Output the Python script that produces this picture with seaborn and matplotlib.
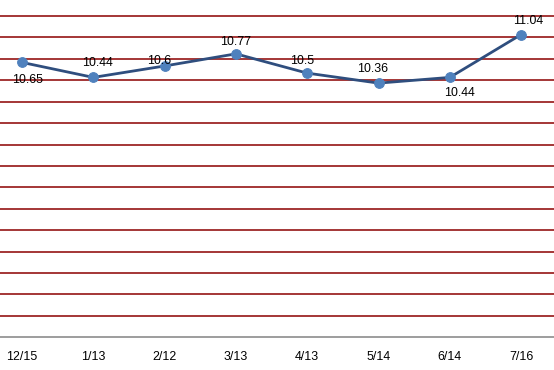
import matplotlib
matplotlib.use("Agg")
import matplotlib.pyplot as plt
import seaborn as sns
import pandas as pd
import numpy as np

# data
dates = ["12/15", "1/13", "2/12", "3/13", "4/13", "5/14", "6/14", "7/16"]
values = [10.65, 10.44, 10.6, 10.77, 10.5, 10.36, 10.44, 11.04]
value_labels = ["10.65", "10.44", "10.6", "10.77", "10.5", "10.36", "10.44", "11.04"]

# label offsets in pixels (layout only)
label_offsets = [(6, -18), (4, 14), (-5, 5), (0, 12), (-5, 12), (-6, 14), (10, -16), (7, 14)]

sns.set_theme(style="white")
plt.rcParams["font.family"] = ["Liberation Sans", "DejaVu Sans"]

fig = plt.figure(figsize=(5.54, 3.70), dpi=100)
ax = fig.add_axes([0, (370 - 337.3) / 370, 1, (337.3 - 16) / 370])

df = pd.DataFrame({"date": dates, "value": values})
sns.lineplot(data=df, x="date", y="value", ax=ax, sort=False,
             color="#2F4E7E", linewidth=2, marker="o", markersize=7,
             markerfacecolor="#4F81BD", markeredgecolor="#4F81BD", zorder=3)

ax.set_ylim(6.8, 11.3)
ax.set_xlim(-22 / 71.3, 532 / 71.3)

for y in np.arange(7.1, 11.31, 0.3):
    ax.axhline(y, color="#8B0000", linewidth=1.1, zorder=1, clip_on=False)

for i, (v, lab) in enumerate(zip(values, value_labels)):
    dx, dy = label_offsets[i]
    ax.annotate(lab, (i, v), xytext=(dx, dy), textcoords="offset pixels",
                ha="center", va="center", fontsize=8.9, color="#000000",
                zorder=4, annotation_clip=False)

for s in ["top", "right", "left"]:
    ax.spines[s].set_visible(False)
ax.spines["bottom"].set_color("#8C8C8C")
ax.spines["bottom"].set_linewidth(1.2)
ax.set_yticks([])
ax.set_xlabel("")
ax.set_ylabel("")
ax.tick_params(axis="x", length=0, pad=10, labelsize=8.9, labelcolor="#000000")

fig.savefig("out.png", dpi=100)
